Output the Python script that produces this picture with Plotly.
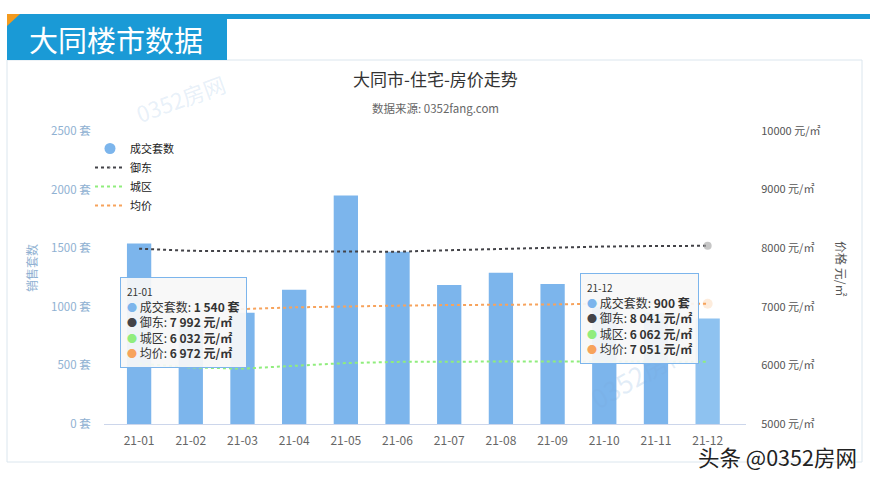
import plotly.graph_objects as go

months = ["21-01", "21-02", "21-03", "21-04", "21-05", "21-06",
          "21-07", "21-08", "21-09", "21-10", "21-11", "21-12"]
sales = [1540, 850, 950, 1145, 1950, 1470, 1186, 1290, 1195, 1000, 950, 900]
yudong = [7992, 7955, 7950, 7950, 7945, 7940, 7966, 7990, 8012, 8029, 8037, 8041]
chengqu = [6032, 5965, 5945, 5990, 6040, 6060, 6068, 6066, 6066, 6070, 6065, 6062]
junjia = [6972, 6962, 6962, 6990, 7010, 7020, 7030, 7032, 7040, 7055, 7058, 7051]
left_ticks = [0, 500, 1000, 1500, 2000, 2500]
right_ticks = [5000, 6000, 7000, 8000, 9000, 10000]

C_BAR, C_YD, C_CQ, C_JJ = "#7cb5ec", "#434348", "#90ed7d", "#f7a35c"
FONT = "Noto Sans CJK SC"

PL, PR, PT, PB = 104, 746, 131, 424
W, H = 870, 477


def px(x):
    return (x - PL) / (PR - PL)


def py(y):
    return (PB - y) / (PB - PT)


fig = go.Figure()
bar_colors = [C_BAR] * (len(months) - 1) + ["#8ec2f0"]
fig.add_trace(go.Bar(x=months, y=sales, name="成交套数", marker_color=bar_colors,
                     marker_line_width=0, showlegend=False, yaxis="y"))
# legend proxy for the bar series (round symbol)
fig.add_trace(go.Scatter(x=[None], y=[None], mode="markers", name="成交套数",
                         marker=dict(color=C_BAR, size=11, symbol="circle")))

n = len(months)


def last_marker(color, size):
    return dict(size=[0] * (n - 1) + [size], color=color, line=dict(width=0))


fig.add_trace(go.Scatter(x=months, y=yudong, name="御东", yaxis="y2", mode="lines+markers",
                         line=dict(color=C_YD, width=2, dash="dot"),
                         marker=last_marker("rgba(165,165,165,0.9)", 8)))
fig.add_trace(go.Scatter(x=months, y=chengqu, name="城区", yaxis="y2", mode="lines",
                         line=dict(color=C_CQ, width=2, dash="dot")))
fig.add_trace(go.Scatter(x=months, y=junjia, name="均价", yaxis="y2", mode="lines+markers",
                         line=dict(color=C_JJ, width=2, dash="dot"),
                         marker=last_marker("rgba(247,163,92,0.3)", 10)))


def fmt(v):
    return f"{v:,}".replace(",", " ")


def tip(i):
    dot = lambda c: f"<span style='color:{c};font-size:10px'>●</span>"
    return (f"<span style='font-size:10px'>{months[i]}</span><br>"
            f"{dot(C_BAR)} 成交套数: <b>{fmt(sales[i])} 套</b><br>"
            f"{dot(C_YD)} 御东: <b>{fmt(yudong[i])} 元/㎡</b><br>"
            f"{dot(C_CQ)} 城区: <b>{fmt(chengqu[i])} 元/㎡</b><br>"
            f"{dot(C_JJ)} 均价: <b>{fmt(junjia[i])} 元/㎡</b>")


def note(x, y, text, size, color, **kw):
    d = dict(x=px(x), y=py(y), xref="paper", yref="paper", text=text, showarrow=False,
             xanchor="center", yanchor="middle",
             font=dict(size=size, color=color, family=FONT))
    d.update(kw)
    return d


annotations = [
    note(116, 39, "大同楼市数据", 29, "white"),
    note(435, 78, "大同市-住宅-房价走势", 17, "#333333"),
    note(435, 108, "数据来源: 0352fang.com", 11.5, "#666666"),
    note(31, 268, "销售套数", 12, "#8fb1d2", textangle=-90),
    note(842, 268, "价格 元/㎡", 12, "#555555", textangle=90),
    note(180, 98, "0352房网", 22, "rgba(120,170,220,0.18)", textangle=-20),
    note(640, 372, "0352房网", 26, "rgba(120,170,220,0.22)", textangle=-30),
    note(859, 457, "头条 @0352房网", 21.5, "#222222", xanchor="right"),
    note(120, 277, tip(0), 12, "#333333", xanchor="left", yanchor="top", align="left",
         bgcolor="rgba(248,248,248,0.93)", bordercolor="#7cb5ec", borderwidth=1, borderpad=6),
    note(580, 273, tip(n - 1), 12, "#333333", xanchor="left", yanchor="top", align="left",
         bgcolor="rgba(248,248,248,0.93)", bordercolor="#7cb5ec", borderwidth=1, borderpad=6),
]

shapes = [
    # chart frame
    dict(type="rect", xref="paper", yref="paper", x0=px(7), x1=px(862), y0=py(462), y1=py(60),
         line=dict(color="#dbe6ee", width=1), fillcolor="rgba(0,0,0,0)", layer="below"),
    # top blue strip
    dict(type="rect", xref="paper", yref="paper", x0=px(7), x1=px(870), y0=py(19), y1=py(14),
         line=dict(width=0), fillcolor="#1a9ad6"),
    # title box
    dict(type="rect", xref="paper", yref="paper", x0=px(7), x1=px(227), y0=py(60), y1=py(14),
         line=dict(width=0), fillcolor="#1a9ad6"),
    # orange corner
    dict(type="path", xref="paper", yref="paper",
         path=f"M {px(7)} {py(14)} L {px(20)} {py(14)} L {px(7)} {py(26)} Z",
         line=dict(width=0), fillcolor="#f39a1e"),
]

fig.update_layout(
    width=W, height=H,
    margin=dict(l=PL, r=W - PR, t=PT, b=H - PB, pad=0),
    paper_bgcolor="white", plot_bgcolor="white",
    font=dict(family=FONT, color="#333333"),
    bargap=0.53,
    showlegend=True,
    legend=dict(x=px(90), y=py(134), xanchor="left", yanchor="top", bgcolor="rgba(0,0,0,0)",
                font=dict(size=11, color="#222222", family=FONT), tracegroupgap=0,
                itemwidth=30),
    xaxis=dict(type="category", showgrid=False, showline=True, linecolor="#ccd6eb",
               linewidth=1, ticks="outside", ticklen=6, tickcolor="rgba(0,0,0,0)",
               tickfont=dict(size=12, color="#666666", family=FONT), zeroline=False),
    yaxis=dict(range=[0, 2500], tickmode="array", tickvals=left_ticks,
               ticktext=[f"{v} 套" for v in left_ticks], showgrid=False,
               zeroline=False, showline=False, ticks="outside", ticklen=10,
               tickcolor="rgba(0,0,0,0)",
               tickfont=dict(size=11.5, color="#8fb1d2", family=FONT)),
    yaxis2=dict(range=[5000, 10000], tickmode="array", tickvals=right_ticks,
                ticktext=[f"{v} 元/㎡" for v in right_ticks], overlaying="y",
                side="right", showgrid=False, zeroline=False, showline=False, ticks="outside",
                ticklen=12, tickcolor="rgba(0,0,0,0)",
                tickfont=dict(size=11, color="#555555", family=FONT)),
    annotations=annotations,
    shapes=shapes,
)

fig.write_html("out.html")
